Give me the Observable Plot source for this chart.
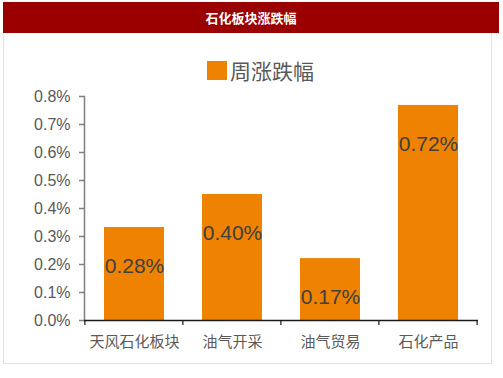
<!DOCTYPE html>
<html><head><meta charset="utf-8">
<script src="https://cdn.jsdelivr.net/npm/d3@7"></script>
<script src="https://cdn.jsdelivr.net/npm/@observablehq/plot@0.6"></script>
<style>
body{margin:0;background:#fff;font-family:"Liberation Sans","Noto Sans CJK SC",sans-serif;}
#wrap{position:relative;width:503px;height:378px;overflow:hidden;}
#box{position:absolute;left:3px;top:33px;width:489px;height:331px;border:1px solid #e3e3e3;border-top:none;box-sizing:border-box;}
#banner{position:absolute;left:3px;top:2px;width:496px;height:31px;background:#9b0000;color:#fff;font:bold 13px "Noto Sans CJK SC",sans-serif;text-align:center;line-height:31px;}
#legend{position:absolute;left:207px;top:58px;height:24px;display:flex;align-items:center;font:21px "Noto Sans CJK SC",sans-serif;color:#595959;}
#legend span.sw{display:inline-block;width:20px;height:19px;background:#ef8200;margin-right:3px;}
#chart{position:absolute;left:0;top:0;}
</style></head>
<body><div id="wrap"><div id="box"></div><div id="banner"></div><div id="legend"></div><div id="chart"></div></div>
<script>
const title = "石化板块涨跌幅";
const seriesName = "周涨跌幅";
const categories = ["天风石化板块", "油气开采", "油气贸易", "石化产品"];
const barValues = [0.332, 0.45, 0.221, 0.768];
const labelTexts = ["0.28%", "0.40%", "0.17%", "0.72%"];
const yTicks = [0, 0.1, 0.2, 0.3, 0.4, 0.5, 0.6, 0.7, 0.8];

document.getElementById("banner").textContent = title;
document.getElementById("legend").innerHTML = '<span class="sw"></span>' + seriesName;

const data = categories.map((c, i) => ({cat: c, v: barValues[i], label: labelTexts[i]}));
const orange = "#ef8200";

const chart = Plot.plot({
  width: 503, height: 378,
  marginLeft: 84, marginRight: 25, marginTop: 96, marginBottom: 58,
  style: {fontFamily: '"Liberation Sans","Noto Sans CJK SC",sans-serif', background: "transparent"},
  x: {domain: categories, paddingInner: 0.39, paddingOuter: 0.195, label: null},
  y: {domain: [0, 0.8], label: null},
  marks: [
    Plot.barY(data, {x: "cat", y: "v", fill: orange}),
    Plot.text(data, {x: "cat", y: "v", text: "label", dy: 39, fill: "#404040", fontSize: 21}),
    Plot.axisY({ticks: yTicks, tickFormat: d => d.toFixed(1) + "%", tickSize: 5, tickPadding: 9, fontSize: 16, color: "#595959", stroke: "#7f7f7f", strokeWidth: 1.5}),
    Plot.axisX({tickSize: 0, tickPadding: 16, fontSize: 15, color: "#595959"}),
    Plot.frame({anchor: "left", stroke: "#7f7f7f", strokeWidth: 1.5}),
    Plot.ruleY([0], {stroke: "#1a1a1a", strokeWidth: 1.5})
  ]
});
document.getElementById("chart").appendChild(chart);

// boundary ticks on x axis, positioned through the x scale
const xs = chart.scale("x");
const xScale = Plot.scale({x: xs});
const yScale = Plot.scale({y: chart.scale("y")});
const y0 = yScale.apply(0);
const bounds = categories.map(c => xScale.apply(c) - xs.step * xs.paddingInner / 2);
bounds.push(xScale.apply(categories[categories.length - 1]) + xs.bandwidth + xs.step * xs.paddingInner / 2);
const svg = d3.select(chart);
svg.append("g").selectAll("line").data(bounds).join("line")
  .attr("x1", d => d).attr("x2", d => d)
  .attr("y1", y0).attr("y2", y0 + 5)
  .attr("stroke", "#1a1a1a").attr("stroke-width", 1.2);
</script></body></html>
